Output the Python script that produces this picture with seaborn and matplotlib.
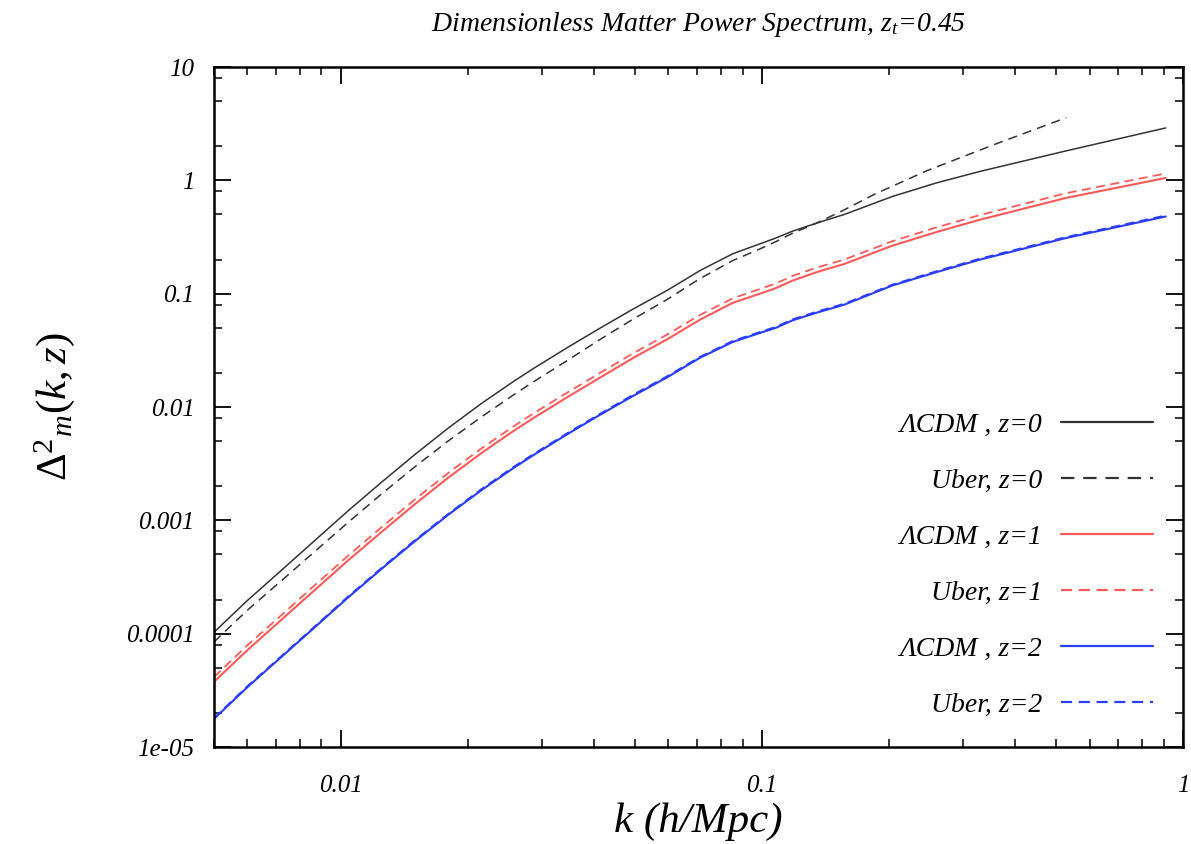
import numpy as np
import pandas as pd
import matplotlib
matplotlib.use("Agg")
import matplotlib.pyplot as plt
import seaborn as sns
from matplotlib.ticker import FixedLocator, FixedFormatter, LogLocator, NullFormatter

# ---------------- data ----------------
k = [0.005, 0.006, 0.00725, 0.0087, 0.0104, 0.0125, 0.015, 0.018, 0.0216, 0.0258, 0.0287,
     0.0345, 0.0413, 0.0494, 0.0596, 0.0713, 0.0853, 0.0989, 0.108, 0.118, 0.135, 0.157,
     0.204, 0.26, 0.33, 0.528, 0.91]
lcdm_z0 = [1.03e-4, 1.96e-4, 3.66e-4, 6.7e-4, 1.21e-3, 2.17e-3, 3.81e-3, 6.52e-3, 0.01077, 0.01695,
           0.0219, 0.0334, 0.0497, 0.073, 0.107, 0.16, 0.225, 0.275, 0.31, 0.355, 0.42, 0.50,
           0.72, 0.95, 1.2, 1.82, 2.9]
k_uber0 = [0.005, 0.006, 0.00725, 0.0087, 0.0104, 0.0125, 0.015, 0.018, 0.0216, 0.0258, 0.0287,
           0.0345, 0.0413, 0.0494, 0.0596, 0.0713, 0.0853, 0.0989, 0.108, 0.118, 0.135, 0.157,
           0.186, 0.247, 0.36, 0.528]
uber_z0 = [8.45e-5, 1.61e-4, 2.96e-4, 5.36e-4, 9.56e-4, 1.71e-3, 2.97e-3, 5.02e-3, 8.2e-3, 0.0129,
           0.0167, 0.0257, 0.0395, 0.0595, 0.089, 0.136, 0.196, 0.248, 0.288, 0.34, 0.42, 0.55,
           0.76, 1.22, 2.1, 3.57]
lcdm_z1 = [3.76e-5, 7.15e-5, 1.34e-4, 2.45e-4, 4.42e-4, 7.9e-4, 1.39e-3, 2.38e-3, 3.93e-3, 6.2e-3,
           8.0e-3, 0.0122, 0.0182, 0.027, 0.0396, 0.059, 0.083, 0.1, 0.112, 0.13, 0.155, 0.183,
           0.265, 0.35, 0.45, 0.70, 1.05]
uber_z1 = [4.14e-5, 7.9e-5, 1.47e-4, 2.7e-4, 4.86e-4, 8.7e-4, 1.53e-3, 2.62e-3, 4.32e-3, 6.8e-3,
           8.8e-3, 0.0134, 0.02, 0.0297, 0.0436, 0.065, 0.091, 0.11, 0.123, 0.143, 0.17, 0.2,
           0.29, 0.385, 0.495, 0.77, 1.15]
lcdm_z2 = [1.77e-5, 3.37e-5, 6.3e-5, 1.15e-4, 2.08e-4, 3.73e-4, 6.55e-4, 1.12e-3, 1.85e-3, 2.92e-3,
           3.77e-3, 5.75e-3, 8.55e-3, 0.0125, 0.0183, 0.0272, 0.0375, 0.045, 0.05, 0.058, 0.068, 0.08,
           0.118, 0.155, 0.2, 0.31, 0.48]
uber_z2 = [1.8e-5, 3.44e-5, 6.4e-5, 1.17e-4, 2.12e-4, 3.8e-4, 6.68e-4, 1.14e-3, 1.89e-3, 2.98e-3,
           3.85e-3, 5.87e-3, 8.72e-3, 0.0128, 0.0187, 0.0277, 0.0383, 0.0459, 0.051, 0.0592, 0.0694,
           0.0816, 0.12, 0.158, 0.204, 0.316, 0.49]

labels = ["\u039bCDM , z=0", "Uber, z=0", "\u039bCDM , z=1", "Uber, z=1", "\u039bCDM , z=2", "Uber, z=2"]
y_ticks = [1e-5, 1e-4, 1e-3, 1e-2, 1e-1, 1, 10]
y_ticklabels = ["1e-05", "0.0001", "0.001", "0.01", "0.1", "1", "10"]
x_ticks = [0.01, 0.1, 1]
x_ticklabels = ["0.01", "0.1", "1"]

# ---------------- style ----------------
sns.set_theme(style="ticks")
plt.rcParams["font.family"] = ["Liberation Serif", "DejaVu Serif"]
plt.rcParams["font.style"] = "italic"
plt.rcParams["text.color"] = "black"
plt.rcParams["axes.labelcolor"] = "black"
plt.rcParams["xtick.color"] = "black"
plt.rcParams["ytick.color"] = "black"
plt.rcParams["mathtext.fontset"] = "custom"
plt.rcParams["mathtext.rm"] = "Liberation Serif:style=normal"
plt.rcParams["mathtext.it"] = "Liberation Serif:style=italic"
plt.rcParams["mathtext.default"] = "it"

fig = plt.figure(figsize=(11.91, 8.44), dpi=100)
ax = fig.add_axes([214 / 1191, 1 - 747 / 844, (1183 - 214) / 1191, (747 - 67) / 844])

series = [
    (k, lcdm_z0, "#333333", "-", 1.1),
    (k_uber0, uber_z0, "#333333", (0, (6, 4)), 1.1),
    (k, lcdm_z1, "#ff5a5a", "-", 1.5),
    (k, uber_z1, "#ff5a5a", (0, (5, 3)), 1.3),
    (k, lcdm_z2, "#2a3cff", "-", 1.5),
    (k, uber_z2, "#2a3cff", (0, (5, 3)), 1.3),
]
for (xx, yy, c, ls, lw), lab in zip(series, labels):
    df = pd.DataFrame({"k": xx, "D": yy})
    sns.lineplot(data=df, x="k", y="D", ax=ax, color=c, linestyle=ls, linewidth=lw,
                 label=lab, sort=True, estimator=None)

ax.set_xscale("log")
ax.set_yscale("log")
ax.set_xlim(0.005, 1)
ax.set_ylim(1e-5, 10)

ax.xaxis.set_major_locator(FixedLocator(x_ticks))
ax.xaxis.set_major_formatter(FixedFormatter(x_ticklabels))
ax.xaxis.set_minor_locator(LogLocator(base=10, subs=np.arange(2, 10)))
ax.xaxis.set_minor_formatter(NullFormatter())
ax.yaxis.set_major_locator(FixedLocator(y_ticks))
ax.yaxis.set_major_formatter(FixedFormatter(y_ticklabels))
ax.yaxis.set_minor_locator(LogLocator(base=10, subs=[2, 5, 8]))
ax.yaxis.set_minor_formatter(NullFormatter())

ax.tick_params(which="both", direction="in", top=True, right=True, colors="black")
ax.tick_params(which="major", length=12, width=1.3, labelsize=18)
ax.tick_params(which="minor", length=6, width=1.1)
ax.tick_params(axis="x", which="major", pad=20)
ax.tick_params(axis="y", which="major", pad=14)
for sp in ax.spines.values():
    sp.set_linewidth(1.8)
    sp.set_color("black")
ax.grid(False)

ax.set_xlabel("k (h/Mpc)", fontsize=31, labelpad=4)
ax.set_ylabel(r"$\mathrm{\Delta}^{2}{}_{m}(k,z)$", fontsize=31)
ax.yaxis.set_label_coords(-0.141, 0.5)
ax.set_title(r"Dimensionless Matter Power Spectrum, $z_t$=0.45", fontsize=20, pad=26)

leg = ax.legend(loc="center right", bbox_to_anchor=(0.969, 0.268), frameon=False,
                markerfirst=False, fontsize=20, handlelength=3.3, handletextpad=0.7,
                labelspacing=1.1, borderaxespad=0, borderpad=0)
for line in leg.get_lines():
    line.set_linewidth(1.6)

fig.savefig("out.png", dpi=100)
